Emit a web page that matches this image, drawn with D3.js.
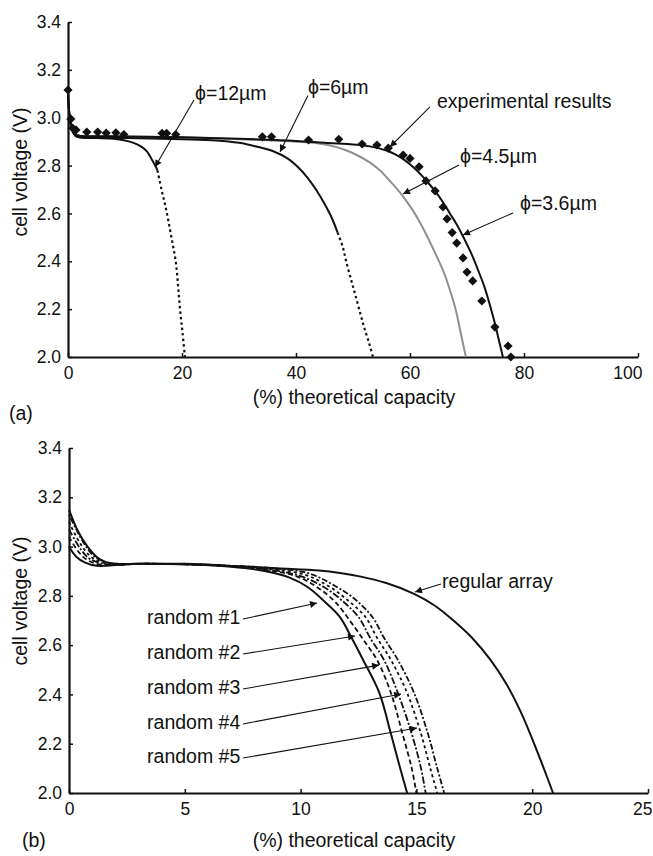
<!DOCTYPE html>
<html>
<head>
<meta charset="utf-8">
<script src="https://cdn.jsdelivr.net/npm/d3@7"></script>
<style>
  html, body { margin: 0; padding: 0; background: #fff; }
  text { font-family: "Liberation Sans", Arial, Helvetica, sans-serif; fill: #111; }
</style>
</head>
<body>
<svg id="chart" width="653" height="856"></svg>
<script>
// ---------------- DATA: panel (a) ----------------
const xTicksA = [0, 20, 40, 60, 80, 100];
const yTicks = [2.0, 2.2, 2.4, 2.6, 2.8, 3.0, 3.2, 3.4];

// phi = 12 um (solid part, then dotted tail)
const phi12 = [[0,3.10],[0.3,3.0],[0.7,2.95],[1.3,2.925],[2,2.918],[5,2.915],[8,2.912],[10,2.905],[11.5,2.895],[12.8,2.88],[13.8,2.86],[14.6,2.83],[15.3,2.80],[15.7,2.78]];
const phi12Tail = [[15.7,2.78],[16.4,2.70],[17.0,2.64],[17.6,2.57],[18.3,2.48],[18.9,2.40],[19.3,2.30],[19.65,2.2],[20.1,2.1],[20.5,2.0]];
// phi = 6 um
const phi6 = [[0,3.10],[0.3,3.0],[0.7,2.95],[1.3,2.925],[2,2.918],[10,2.915],[20,2.91],[26,2.905],[30,2.895],[33,2.88],[36,2.86],[38.5,2.83],[40.5,2.79],[42,2.75],[43.5,2.70],[45,2.64],[46.3,2.58],[47.3,2.52]];
const phi6Tail = [[47.3,2.52],[48.2,2.46],[48.8,2.40],[49.7,2.32],[50.4,2.26],[51.3,2.18],[52,2.12],[52.8,2.06],[53.5,2.0]];
// phi = 4.5 um (grey)
const phi45 = [[0,3.10],[0.3,3.0],[0.7,2.95],[1.3,2.93],[2,2.925],[10,2.922],[20,2.918],[30,2.91],[40,2.90],[44,2.892],[47,2.878],[49,2.862],[51,2.84],[53,2.812],[54.7,2.78],[56.5,2.735],[58.5,2.68],[60.3,2.62],[61.8,2.56],[63.3,2.49],[64.7,2.42],[66,2.35],[67,2.28],[68,2.2],[68.9,2.1],[69.8,2.0]];
// phi = 3.6 um
const phi36 = [[0,3.10],[0.3,3.0],[0.7,2.95],[1.3,2.93],[2,2.925],[10,2.922],[20,2.918],[30,2.912],[40,2.903],[45,2.895],[50,2.888],[52,2.884],[54,2.875],[56,2.862],[57.5,2.846],[59,2.824],[60.5,2.795],[62,2.76],[63.3,2.725],[64.5,2.69],[65.7,2.65],[67,2.60],[68.3,2.55],[69.6,2.49],[70.8,2.43],[72,2.36],[73.1,2.29],[74.1,2.21],[74.9,2.14],[75.6,2.07],[76.3,2.0]];
// experimental results
const expX = [0,0.5,0.8,1.4,3.3,5.2,6.7,8.4,9.8,16.5,17.3,18.9,34.1,35.7,42.2,47.5,51.6,54.2,56.2,58.8,60,61.6,62.8,64.4,65.8,66.5,67.4,68.2,69.3,70,71,72.6,74.9,77.2,77.7];
const expV = [3.116,2.995,2.957,2.949,2.94,2.94,2.936,2.937,2.93,2.935,2.935,2.93,2.92,2.92,2.907,2.91,2.89,2.886,2.873,2.844,2.83,2.795,2.736,2.694,2.627,2.577,2.52,2.476,2.414,2.355,2.318,2.234,2.125,2.046,2.0];

// annotations (a): label, text anchor [x,v], line start [x,v], arrow tip [x,v]
const annotA = [
  {label:"ϕ=12µm", text:[22.3,3.074], from:[22.1,3.074], to:[15.26,2.794]},
  {label:"ϕ=6µm", text:[42.1,3.099], from:[42.1,3.093], to:[37.19,2.857]},
  {label:"experimental results", text:[64.74,3.041], from:[63.5,3.045], to:[56.49,2.878]},
  {label:"ϕ=4.5µm", text:[68.77,2.811], from:[68.6,2.802], to:[58.77,2.681]},
  {label:"ϕ=3.6µm", text:[79.3,2.614], from:[78.07,2.602], to:[69.3,2.51]}
];

// ---------------- DATA: panel (b) ----------------
const xTicksB = [0, 5, 10, 15, 20, 25];
const regular = [[0,3.15],[0.4,3.06],[0.8,3.0],[1.3,2.95],[1.8,2.932],[3,2.93],[5,2.93],[7.4,2.92],[9,2.912],[10.8,2.903],[11.7,2.893],[12.6,2.878],[13.7,2.852],[14.9,2.808],[15.8,2.76],[16.6,2.70],[17.4,2.63],[18.2,2.54],[18.9,2.44],[19.5,2.33],[20.0,2.22],[20.5,2.10],[20.9,2.0]];
const random1 = [[0,3.0],[0.3,2.96],[0.7,2.935],[1.2,2.922],[2,2.925],[3,2.93],[5,2.928],[7,2.918],[8.5,2.9],[9.5,2.875],[10.3,2.836],[11,2.78],[11.7,2.714],[12.2,2.63],[12.7,2.54],[13.4,2.406],[13.9,2.24],[14.3,2.1],[14.6,2.0]];
const random2 = [[0,3.04],[0.4,2.98],[0.8,2.945],[1.4,2.925],[2,2.925],[3,2.93],[5,2.928],[7,2.92],[8.5,2.905],[9.8,2.88],[10.7,2.836],[11.5,2.775],[12.2,2.69],[12.8,2.61],[13.3,2.54],[13.9,2.406],[14.4,2.24],[14.8,2.1],[15.0,2.0]];
const random3 = [[0,3.07],[0.5,2.99],[0.9,2.95],[1.5,2.93],[2,2.926],[3,2.93],[5,2.928],[7,2.92],[8.6,2.907],[10.0,2.88],[11.0,2.836],[11.8,2.78],[12.5,2.714],[13.0,2.63],[13.6,2.54],[14.2,2.406],[14.8,2.24],[15.2,2.1],[15.4,2.0]];
const random4 = [[0,3.10],[0.5,3.01],[1.0,2.955],[1.6,2.932],[2,2.928],[3,2.93],[5,2.928],[7,2.921],[8.7,2.91],[10.2,2.885],[11.2,2.84],[12.0,2.785],[12.8,2.714],[13.3,2.63],[13.9,2.54],[14.6,2.406],[15.2,2.24],[15.6,2.1],[15.9,2.0]];
const random5 = [[0,3.13],[0.6,3.02],[1.1,2.96],[1.7,2.934],[2.2,2.93],[3,2.93],[5,2.929],[7,2.922],[8.8,2.912],[10.4,2.89],[11.4,2.845],[12.3,2.79],[13.1,2.714],[13.6,2.63],[14.2,2.54],[14.9,2.406],[15.5,2.24],[15.9,2.1],[16.2,2.0]];

const annotB = [
  {label:"regular array", text:[16.11,2.832], from:[16.06,2.848], to:[14.94,2.816]},
  {label:"random #1", text:[3.37,2.686], from:[7.51,2.706], to:[10.71,2.771]},
  {label:"random #2", text:[3.37,2.544], from:[7.51,2.564], to:[12.35,2.637]},
  {label:"random #3", text:[3.37,2.402], from:[7.51,2.422], to:[13.39,2.519]},
  {label:"random #4", text:[3.37,2.260], from:[7.51,2.280], to:[14.34,2.402]},
  {label:"random #5", text:[3.37,2.122], from:[7.51,2.142], to:[15.03,2.264]}
];

// ---------------- DRAWING ----------------
const svg = d3.select("#chart");
const defs = svg.append("defs");
defs.append("marker")
  .attr("id", "arrow").attr("viewBox", "0 0 10 10")
  .attr("refX", 10).attr("refY", 5)
  .attr("markerWidth", 8).attr("markerHeight", 7)
  .attr("markerUnits", "userSpaceOnUse")
  .attr("orient", "auto")
  .append("path").attr("d", "M0,0 L10,5 L0,10 z").attr("fill", "#111");

const TICK_FONT = "17.5px";
const LABEL_FONT = "19.5px";

function drawAxes(x, y, xTicks, xFmt, labelCenterY, titleBaseline, panelLabel, panelPos) {
  const g = svg.append("g");
  const ax = g.append("g").attr("transform", `translate(0,${y.range()[0]})`)
    .call(d3.axisBottom(x).tickValues(xTicks).tickFormat(xFmt).tickSizeInner(-4).tickSizeOuter(0).tickPadding(10));
  const ay = g.append("g").attr("transform", `translate(${x.range()[0]},0)`)
    .call(d3.axisLeft(y).tickValues(yTicks).tickFormat(d3.format(".1f")).tickSizeInner(-4).tickSizeOuter(0).tickPadding(7));
  [ax, ay].forEach(a => {
    a.select(".domain").attr("stroke", "#111").attr("stroke-width", 2.2);
    a.selectAll(".tick line").attr("stroke", "#111").attr("stroke-width", 1.5);
    a.selectAll(".tick text").style("font-size", TICK_FONT).style("font-family", '"Liberation Sans", Arial, sans-serif').attr("fill", "#111");
  });
  // keep the last x tick label inside the picture
  ax.selectAll(".tick text").filter((d, i, n) => i === n.length - 1 && x(d) + 20 > 653)
    .attr("text-anchor", "end").attr("dx", 4);
  // y-axis title
  svg.append("text")
    .attr("transform", `translate(27,${labelCenterY}) rotate(-90)`)
    .attr("text-anchor", "middle").style("font-size", LABEL_FONT)
    .text("cell voltage (V)");
  // x-axis title
  svg.append("text")
    .attr("x", 354).attr("y", titleBaseline)
    .attr("text-anchor", "middle").style("font-size", LABEL_FONT)
    .text("(%) theoretical capacity");
  svg.append("text").attr("x", panelPos[0]).attr("y", panelPos[1])
    .style("font-size", LABEL_FONT).text(panelLabel);
}

function drawLine(x, y, data, opts) {
  const line = d3.line().x(d => x(d[0])).y(d => y(d[1])).curve(d3.curveCatmullRom.alpha(0.5));
  const p = svg.append("path").datum(data).attr("d", line)
    .attr("fill", "none").attr("stroke", opts.color || "#111")
    .attr("stroke-width", opts.width || 2)
    .attr("stroke-linejoin", "round");
  if (opts.dash) p.attr("stroke-dasharray", opts.dash);
  return p;
}

function drawAnnots(x, y, list) {
  list.forEach(a => {
    svg.append("line")
      .attr("x1", x(a.from[0])).attr("y1", y(a.from[1]))
      .attr("x2", x(a.to[0])).attr("y2", y(a.to[1]))
      .attr("stroke", "#111").attr("stroke-width", 1.1)
      .attr("marker-end", "url(#arrow)");
    svg.append("text").attr("x", x(a.text[0])).attr("y", y(a.text[1]))
      .style("font-size", LABEL_FONT).text(a.label);
  });
}

// ---- panel (a)
const xA = d3.scaleLinear().domain([0, 100]).range([68, 638]);
const yA = d3.scaleLinear().domain([2.0, 3.4]).range([357, 22]);
drawAxes(xA, yA, xTicksA, d3.format("d"), 172, 404, "(a)", [9, 420]);
drawLine(xA, yA, phi45, {color: "#8f8f8f", width: 2});
drawLine(xA, yA, phi12, {width: 2});
drawLine(xA, yA, phi12Tail, {width: 2.2, dash: "2.5,3"});
drawLine(xA, yA, phi6, {width: 2});
drawLine(xA, yA, phi6Tail, {width: 2.2, dash: "2.5,3"});
drawLine(xA, yA, phi36, {width: 2});
const diamond = d3.symbol().type(d3.symbolSquare).size(42);
svg.append("g").selectAll("path").data(expX.map((v, i) => [v, expV[i]]))
  .join("path")
  .attr("d", diamond)
  .attr("transform", d => `translate(${xA(d[0])},${yA(d[1])}) rotate(45)`)
  .attr("fill", "#111");
drawAnnots(xA, yA, annotA);

// ---- panel (b)
const xB = d3.scaleLinear().domain([0, 25]).range([69, 648]);
const yB = d3.scaleLinear().domain([2.0, 3.4]).range([793, 448]);
drawAxes(xB, yB, xTicksB, d3.format("d"), 601, 847, "(b)", [22, 847]);
drawLine(xB, yB, regular, {width: 2});
drawLine(xB, yB, random5, {width: 1.8, dash: "2,2,6,2"});
drawLine(xB, yB, random4, {width: 1.8, dash: "3,3"});
drawLine(xB, yB, random3, {width: 1.8, dash: "7,2,2,2"});
drawLine(xB, yB, random2, {width: 1.8, dash: "5,3"});
drawLine(xB, yB, random1, {width: 2});
drawAnnots(xB, yB, annotB);
</script>
</body>
</html>
